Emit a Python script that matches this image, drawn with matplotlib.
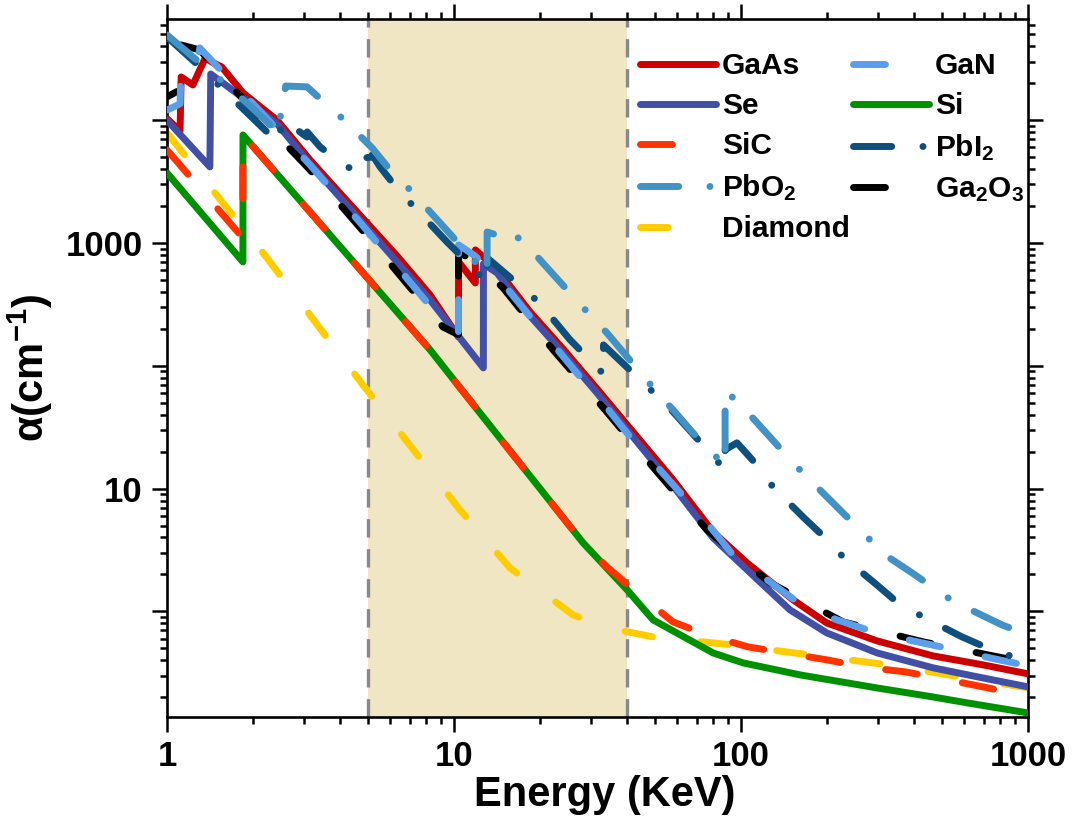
import matplotlib
matplotlib.use("Agg")
import matplotlib.pyplot as plt
from matplotlib.lines import Line2D
from matplotlib.ticker import LogLocator, FuncFormatter, NullFormatter

plt.rcParams['font.family'] = ['Liberation Sans', 'DejaVu Sans']
plt.rcParams['font.weight'] = 'bold'
plt.rcParams['mathtext.fontset'] = 'custom'
plt.rcParams['mathtext.rm'] = 'Liberation Sans:bold'
plt.rcParams['mathtext.it'] = 'Liberation Sans:bold'
plt.rcParams['mathtext.bf'] = 'Liberation Sans:bold'
plt.rcParams['mathtext.default'] = 'rm'

# energies in keV, absorption coefficient in cm^-1
si_e = [1.0, 1.838, 1.839, 8.25, 12.62, 18.85, 28.15, 40.07, 49.37, 79.9, 101.6, 160.6, 297.8, 466.7, 613, 1000]
si_a = [3720, 702, 7590, 135, 38.4, 11.8, 3.62, 1.50, 0.853, 0.459, 0.381, 0.304, 0.238, 0.201, 0.180, 0.149]

sic_e = [1.0, 1.838, 1.839, 8.25, 12.62, 18.85, 28.15, 34.13, 43.42, 57.97, 76.1, 105.8, 142.3, 199.4, 266.1,
         372.8, 505.6, 697, 937.8, 1000]
sic_a = [5730, 1100, 7590, 135, 38.4, 11.8, 3.62, 2.30, 1.42, 0.821, 0.644, 0.514, 0.459, 0.403, 0.353,
         0.322, 0.282, 0.243, 0.209, 0.201]

dia_e = [1.0, 1.506, 2.23, 3.28, 4.819, 7.141, 10.49, 15.67, 25.98, 34.4, 49.37, 93.0, 174.0, 325.2, 613, 1000]
dia_a = [7880, 2380, 757, 228, 69.8, 21.4, 6.71, 2.26, 0.936, 0.734, 0.620, 0.534, 0.442, 0.367, 0.287, 0.238]

gaas_e = [1.0, 1.11, 1.12, 1.23, 1.30, 1.36, 1.45, 1.55, 1.84, 2.42, 3.15, 3.91, 6.33, 8.25, 10.36, 10.37,
          11.86, 11.87, 14.1, 18.4, 24.0, 31.5, 58.0, 79.9, 105, 152, 199, 298, 467, 697, 1000]
gaas_a = [10300, 8180, 22500, 19400, 25700, 32200, 29300, 27200, 16700, 10000, 4750, 2710, 785, 378, 172, 702,
          473, 879, 615, 275, 137, 64.9, 11.8, 4.44, 2.48, 1.24, 0.805, 0.575, 0.434, 0.367, 0.310]

se_e = [1.0, 1.41, 1.42, 1.84, 2.42, 3.15, 3.91, 6.33, 8.25, 12.65, 12.66, 14.12, 18.4, 24.0, 31.5, 58.0,
        79.9, 105, 148, 199, 298, 467, 697, 1000]
se_a = [10000, 4170, 23800, 15200, 9330, 4410, 2510, 702, 344, 96.2, 676, 571, 255, 127, 60.1, 10.5,
        3.97, 2.18, 1.03, 0.668, 0.459, 0.347, 0.287, 0.243]

gan_e = [1.0, 1.11, 1.12, 1.29, 1.30, 1.657, 2.059, 3.15, 4.779, 8.94, 10.36, 10.37, 11.84, 14.47, 17.96,
         27.48, 33.05, 41.05, 52.2, 76.1, 93.8, 119.4, 160.6, 216.0, 297.8, 397.5, 556.8, 737.4, 1000]
gan_a = [12100, 13600, 29800, 34700, 38800, 21300, 12600, 4330, 1410, 245, 189, 966, 785, 501, 270,
         81.3, 49.9, 26.4, 14.2, 5.26, 2.88, 1.91, 1.15, 0.853, 0.668, 0.575, 0.486, 0.418, 0.360]

ga2o3_e = [1.0, 1.11, 1.12, 1.30, 1.946, 3.15, 4.779, 9.156, 10.36, 10.37, 12.03, 14.82, 22.13, 33.59, 50.95,
           76.1, 126.2, 226.7, 430.6, 818.2, 1000]
ga2o3_a = [15500, 17700, 41000, 37400, 12800, 3940, 1280, 207, 179, 847, 689, 431, 135, 43.8, 13.7,
           4.61, 1.71, 0.821, 0.565, 0.418, 0.388]

pbo2_e = [1.0, 1.303, 1.726, 2.285, 2.48, 2.49, 2.58, 2.59, 3.075, 3.552, 4.073, 5.18, 5.984, 7.027, 8.94,
          13.03, 13.04, 15.19, 15.2, 17.4, 19.94, 23.4, 29.3, 34.13, 40.39, 50.14, 57.97, 68.05, 88.0, 88.01,
          105.8, 124.2, 154.2, 184.0, 216.0, 274.8, 325.2, 394.3, 526.4, 653.8, 811.7, 1000]
pbo2_a = [49500, 29300, 17000, 9160, 7730, 16100, 17700, 19000, 18700, 13800, 10400, 5960, 3940, 2710, 1460,
          551, 1230, 1100, 1210, 1060, 729, 482, 270, 185, 116, 63.7, 43.8, 28.4, 15.3, 63.7,
          41.4, 27.4, 15.6, 10.3, 7.09, 4.04, 2.78, 2.06, 1.29, 0.99, 0.776, 0.644]

pbi2_e = [1.0, 1.303, 1.754, 2.285, 2.48, 2.49, 2.748, 3.07, 3.08, 3.413, 3.911, 4.55, 4.56, 4.85, 4.86,
          5.18, 5.19, 5.524, 6.382, 8.118, 9.454, 11.37, 13.03, 13.04, 15.3, 18.85, 21.95, 25.36, 33.16, 33.17,
          50.14, 57.97, 88.0, 88.01, 96.8, 111.9, 129.3, 164.4, 191.5, 226.7, 297.8, 349.6, 430.6, 588.8,
          719.8, 1000]
pbi2_a = [47700, 27200, 13800, 7590, 6530, 9690, 8820, 7310, 8030, 6070, 4750, 3790, 4250, 4670, 4930,
          5020, 5220, 4170, 2710, 1490, 1020, 664, 473, 757, 551, 364, 245, 163, 85.9, 148,
          59.0, 42.2, 14.2, 20.7, 23.6, 16.2, 10.3, 5.88, 4.20, 2.78, 1.64, 1.19, 0.902, 0.620,
          0.505, 0.388]

fig = plt.figure(figsize=(10.89, 8.25), dpi=100)
ax = fig.add_axes([0.1534, 0.1309, 0.7906, 0.8461])

ax.axvspan(5, 40, color='#F0E6C4', zorder=0, lw=0)
ax.axvline(5, color='#888888', lw=2.4, ls=(0, (5.5, 3.5)), zorder=1)
ax.axvline(40, color='#888888', lw=2.4, ls=(0, (5.5, 3.5)), zorder=1)

lw = 5
dash = (0, (4.6, 6.6))
dia_dash = (0, (4, 7))
dashdot = (0, (5.5, 4.5, 0.01, 4.2))
kw = dict(lw=lw, solid_capstyle='round', dash_capstyle='round', solid_joinstyle='round')

styles = {
    'GaAs': ('#CC0000', '-'),
    'Se': ('#4150A5', '-'),
    'SiC': ('#FF3300', dash),
    'PbO$_2$': ('#4292C6', dashdot),
    'Diamond': ('#FFCC00', dia_dash),
    'GaN': ('#5B9FEB', dash),
    'Si': ('#009100', '-'),
    'PbI$_2$': ('#0E4F7E', dashdot),
    'Ga$_2$O$_3$': ('#000000', dash),
}

ax.plot(dia_e, dia_a, color=styles['Diamond'][0], ls=dia_dash, zorder=2, **kw)
ax.plot(si_e, si_a, color=styles['Si'][0], ls='-', zorder=3, **kw)
ax.plot(sic_e, sic_a, color=styles['SiC'][0], ls=dash, zorder=4, **kw)
ax.plot(gaas_e, gaas_a, color=styles['GaAs'][0], ls='-', zorder=5, **kw)
ax.plot(se_e, se_a, color=styles['Se'][0], ls='-', zorder=6, **kw)
ax.plot(ga2o3_e, ga2o3_a, color=styles['Ga$_2$O$_3$'][0], ls=(3, (4.6, 6.6)), zorder=7, **kw)
ax.plot(gan_e, gan_a, color=styles['GaN'][0], ls=dash, zorder=8, **kw)
ax.plot(pbi2_e, pbi2_a, color=styles['PbI$_2$'][0], ls=dashdot, zorder=9, **kw)
ax.plot(pbo2_e, pbo2_a, color=styles['PbO$_2$'][0], ls=dashdot, zorder=10, **kw)

ax.set_xscale('log')
ax.set_yscale('log')
ax.set_xlim(1, 1000)
ax.set_ylim(0.138, 66800)

ax.xaxis.set_major_locator(LogLocator(base=10, numticks=10))
ax.xaxis.set_minor_locator(LogLocator(base=10, subs=range(2, 10), numticks=20))
ax.xaxis.set_major_formatter(FuncFormatter(lambda v, p: '%d' % round(v)))
ax.xaxis.set_minor_formatter(NullFormatter())
ax.yaxis.set_major_locator(LogLocator(base=10, numticks=12))
ax.yaxis.set_minor_locator(LogLocator(base=10, subs=range(2, 10), numticks=20))
ax.yaxis.set_major_formatter(FuncFormatter(lambda v, p: '%d' % round(v) if round(v) in (10, 1000) else ''))
ax.yaxis.set_minor_formatter(NullFormatter())

for s in ax.spines.values():
    s.set_linewidth(1.9)
ax.tick_params(which='both', direction='out', top=True, right=True, width=1.8, labelsize=25)
ax.tick_params(which='major', length=10.5)
ax.tick_params(which='minor', length=5)
ax.tick_params(axis='x', which='major', pad=6)
ax.tick_params(axis='y', which='major', pad=7)

ax.set_xlabel('Energy (KeV)', fontsize=30, fontweight='bold', labelpad=2)
ax.xaxis.set_label_coords(0.508, -0.083)
ax.set_ylabel('α(cm$^{-1}$)', fontsize=30, fontweight='bold', labelpad=8)

names = ['GaAs', 'Se', 'SiC', 'PbO$_2$', 'Diamond', 'GaN', 'Si', 'PbI$_2$', 'Ga$_2$O$_3$']
handles = [Line2D([], [], color=styles[n][0], ls=styles[n][1], **kw) for n in names]
ax.legend(handles, names, ncol=2, frameon=False, loc='upper left', bbox_to_anchor=(0.549, 0.952),
          fontsize=21.5, handlelength=2.55, handletextpad=0.2, columnspacing=0.1, labelspacing=0.4,
          borderpad=0, borderaxespad=0)

fig.savefig('out.png', dpi=100)
